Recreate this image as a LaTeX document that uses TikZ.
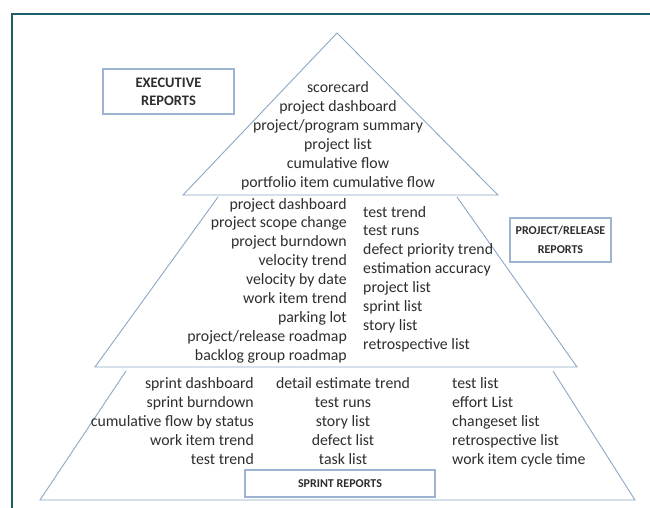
\documentclass[tikz,border=0pt]{standalone}
\usepackage{fontspec}
\setmainfont{Carlito}
\definecolor{framec}{HTML}{1D5F69}
\definecolor{pyrc}{HTML}{8AA8C8}
\definecolor{boxc}{HTML}{9CB4D2}
\definecolor{txtc}{HTML}{2E2E2E}
\begin{document}
\begin{tikzpicture}[x=1pt,y=-1pt,
  frameline/.style={draw=framec,line width=2.4pt},
  pyr/.style={draw=pyrc,line width=0.9pt,line join=miter},
  lbl/.style={inner sep=0pt,text=txtc,font=\fontsize{15.8}{19}\selectfont},
  rbox/.style={draw=boxc,line width=1.3pt,fill=white,align=center,inner sep=0pt,text=txtc}]
\useasboundingbox (0,0) rectangle (650,507);
\fill[white] (0,0) rectangle (650,507);
\draw[frameline] (651,14) -- (12,14) -- (12,508);
% pyramid levels
\coordinate (apex) at (337,33);
\coordinate (tbl) at (183,195);
\coordinate (tbr) at (498,195);
\draw[pyr] (apex) -- (tbl) -- (tbr) -- cycle;
\coordinate (mtl) at (218,197);
\coordinate (mbl) at (95,367);
\coordinate (mbr) at (577,367);
\coordinate (mtr) at (457,197);
\draw[pyr] (mtl) -- (mbl) -- (mbr) -- (mtr);
\coordinate (btl) at (126,371);
\coordinate (bbl) at (40,500);
\coordinate (bbr) at (635,500);
\coordinate (btr) at (553,371);
\draw[pyr] (btl) -- (bbl) -- (bbr) -- (btr);
% executive level
\foreach \t [count=\i] in {scorecard,project dashboard,project/program summary,project list,cumulative flow,portfolio item cumulative flow}
  \node[lbl,anchor=base] (ex\i) at (338,{92+19*(\i-1)}) {\t};
% project/release level
\foreach \t [count=\i] in {project dashboard,project scope change,project burndown,velocity trend,velocity by date,work item trend,parking lot,project/release roadmap,backlog group roadmap}
  \node[lbl,anchor=base east] (pl\i) at (347,{209+18.9*(\i-1)}) {\t};
\foreach \t [count=\i] in {test trend,test runs,defect priority trend,estimation accuracy,project list,sprint list,story list,retrospective list}
  \node[lbl,anchor=base west] (pr\i) at (363,{217+18.9*(\i-1)}) {\t};
% sprint level
\foreach \t [count=\i] in {sprint dashboard,sprint burndown,cumulative flow by status,work item trend,test trend}
  \node[lbl,anchor=base east] (sl\i) at (254,{388+19.2*(\i-1)}) {\t};
\foreach \t [count=\i] in {detail estimate trend,test runs,story list,defect list,task list}
  \node[lbl,anchor=base] (sc\i) at (343,{388+19.2*(\i-1)}) {\t};
\foreach \t [count=\i] in {test list,effort List,changeset list,retrospective list,work item cycle time}
  \node[lbl,anchor=base west] (sr\i) at (452,{388+19.2*(\i-1)}) {\t};
% level labels
\node[rbox,minimum width=131pt,minimum height=45pt,font=\fontsize{14.5}{18}\selectfont\bfseries] (exec) at (168.5,91.5) {EXECUTIVE\\REPORTS};
\node[rbox,minimum width=101pt,minimum height=44pt,font=\fontsize{12}{19}\selectfont\bfseries] (proj) at (560.5,240) {PROJECT/RELEASE\\REPORTS};
\node[rbox,minimum width=190pt,minimum height=27pt,font=\fontsize{12}{15}\selectfont\bfseries] (sprint) at (340,483.5) {SPRINT REPORTS};
\end{tikzpicture}
\end{document}
